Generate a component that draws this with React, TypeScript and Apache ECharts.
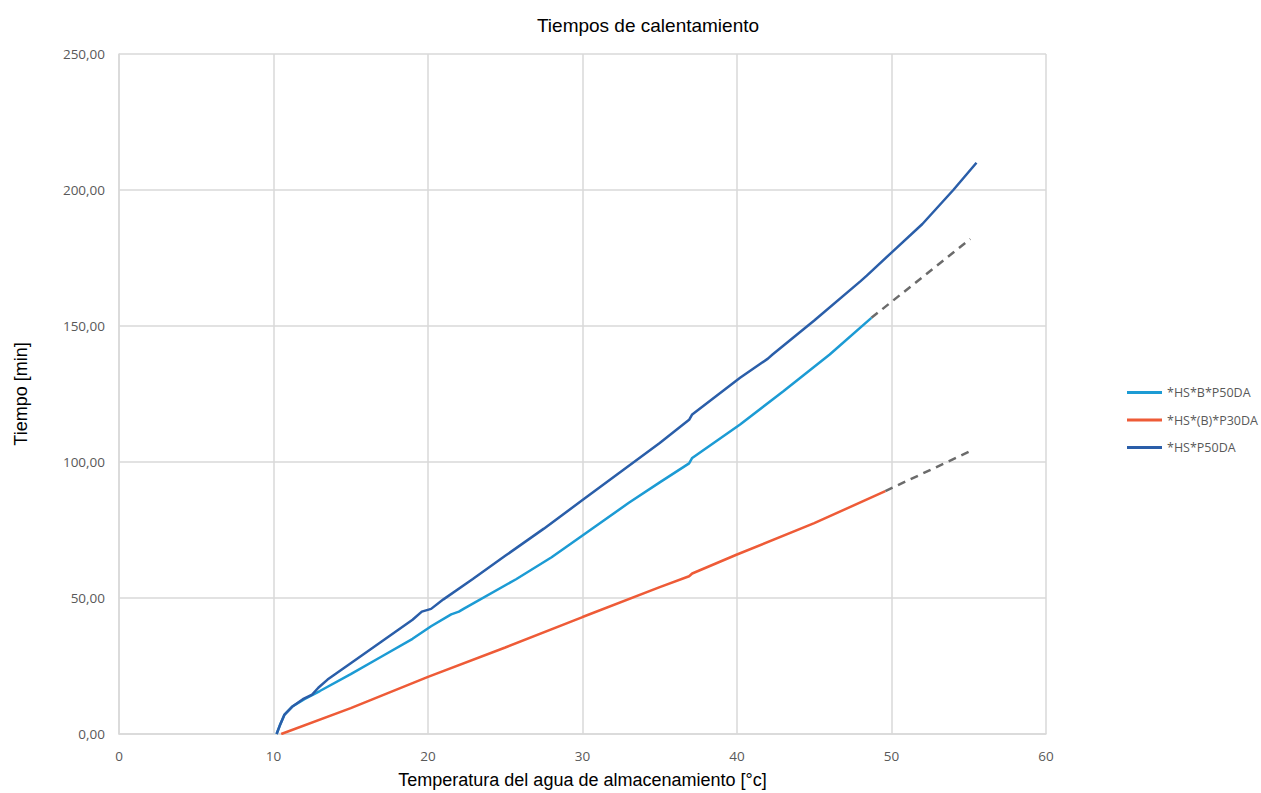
import React, { useEffect, useRef } from "react";
import * as echarts from "echarts";

const title = "Tiempos de calentamiento";
const xName = "Temperatura del agua de almacenamiento [°c]";
const yName = "Tiempo [min]";
const seriesNames = ["*HS*B*P50DA", "*HS*(B)*P30DA", "*HS*P50DA"];

// *HS*B*P50DA (light blue)
const lbX = [10.2, 10.4, 10.7, 11.2, 12, 13, 15, 17, 19, 20.2, 21.5, 22, 22.3, 25.7, 28, 30, 33, 35, 36.9, 37.1, 40.2, 43, 46, 48.7];
const lbY = [0, 3, 7, 10, 12.8, 15.8, 22, 28.5, 35, 39.6, 44, 45, 46, 56.9, 65, 73, 85, 92.5, 99.5, 101.5, 113.8, 126, 139.5, 153];

// *HS*(B)*P30DA (orange)
const orX = [10.5, 15, 20, 25, 30, 35, 36.9, 37.1, 40, 45, 49.6];
const orY = [0, 9.5, 21, 31.8, 43, 54, 58, 59, 66, 77.5, 89.3];

// *HS*P50DA (dark blue)
const dbX = [10.2, 10.4, 10.7, 11.2, 11.9, 12.5, 12.9, 13.5, 15, 17, 19, 19.6, 20.2, 21, 22.9, 25, 27.5, 30, 32.5, 35, 36.9, 37.1, 40.2, 42, 42.3, 45, 48, 48.4, 50, 52, 54, 55.5];
const dbY = [0, 3, 7, 10, 12.8, 14.5, 17, 20, 26, 34, 42, 45, 46, 49.5, 57, 65.5, 75.5, 86, 96.5, 107, 115.5, 117.5, 131, 138, 139.5, 152, 166.5, 168.5, 177, 187.5, 200, 210];

// dashed trend extensions
const trend1X = [48.7, 55.1];
const trend1Y = [153, 182];
const trend2X = [49.6, 55.1];
const trend2Y = [89.3, 104];

const xTicks = { min: 0, max: 60, interval: 10 };
const yTicks = { min: 0, max: 250, interval: 50 };

const zip = (xs: number[], ys: number[]) => xs.map((x, i) => [x, ys[i]]);

export default function App() {
  const ref = useRef<HTMLDivElement>(null);
  useEffect(() => {
    if (!ref.current) return;
    const chart = echarts.init(ref.current, null, { renderer: "svg" });
    const gridColor = "#d9d9d9";
    const labelColor = "#595959";
    chart.setOption({
      animation: false,
      backgroundColor: "#ffffff",
      title: {
        text: title,
        left: 643,
        top: 11,
        textAlign: "center",
        textStyle: {
          fontFamily: "Liberation Sans, Arial",
          fontSize: 19,
          fontWeight: "normal",
          color: "#000",
        },
      },
      grid: { left: 119, right: 215, top: 54, bottom: 59, containLabel: false, outerBoundsMode: "none" },
      legend: {
        data: seriesNames.map((n) => ({ name: n, icon: "rect" })),
        orient: "vertical",
        left: 1122,
        top: 381,
        itemWidth: 35,
        itemHeight: 3,
        itemGap: 14.5,
        textStyle: { fontFamily: "Open Sans", fontSize: 12.5, color: labelColor },
      },
      xAxis: {
        type: "value",
        ...xTicks,
        name: xName,
        nameLocation: "middle",
        nameGap: 37,
        nameTextStyle: { fontFamily: "Liberation Sans", fontSize: 18, color: "#000" },
        axisLine: { show: true, lineStyle: { color: gridColor, width: 1.5 } },
        axisTick: { show: false },
        axisLabel: { fontFamily: "Open Sans", fontSize: 13.5, color: labelColor, margin: 15 },
        splitLine: { show: true, lineStyle: { color: gridColor, width: 1.5 } },
      },
      yAxis: {
        type: "value",
        ...yTicks,
        name: yName,
        nameLocation: "middle",
        nameGap: 89,
        nameRotate: 90,
        nameTextStyle: { fontFamily: "Liberation Sans", fontSize: 18, color: "#000" },
        axisLine: { show: true, lineStyle: { color: gridColor, width: 1.5 } },
        axisTick: { show: false },
        axisLabel: {
          fontFamily: "Open Sans",
          fontSize: 13.5,
          color: labelColor,
          margin: 14,
          formatter: (v: number) => v.toFixed(2).replace(".", ","),
        },
        splitLine: { show: true, lineStyle: { color: gridColor, width: 1.5 } },
      },
      series: [
        {
          name: seriesNames[0],
          type: "line",
          symbol: "none",
          data: zip(lbX, lbY),
          lineStyle: { color: "#1c9bd4", width: 2.5 },
          itemStyle: { color: "#1c9bd4" },
          z: 3,
        },
        {
          name: seriesNames[1],
          type: "line",
          symbol: "none",
          data: zip(orX, orY),
          lineStyle: { color: "#ee5b37", width: 2.5 },
          itemStyle: { color: "#ee5b37" },
          z: 3,
        },
        {
          name: seriesNames[2],
          type: "line",
          symbol: "none",
          data: zip(dbX, dbY),
          lineStyle: { color: "#2a5ea9", width: 2.5 },
          itemStyle: { color: "#2a5ea9" },
          z: 4,
        },
        {
          name: "trend1",
          type: "line",
          symbol: "none",
          data: zip(trend1X, trend1Y),
          lineStyle: { color: "#6b6b6b", width: 2.5, type: [8, 6] },
          z: 2,
        },
        {
          name: "trend2",
          type: "line",
          symbol: "none",
          data: zip(trend2X, trend2Y),
          lineStyle: { color: "#6b6b6b", width: 2.5, type: [8, 6] },
          z: 2,
        },
      ],
    });
    return () => chart.dispose();
  }, []);
  return (
    <div
      ref={ref}
      style={{ position: "fixed", left: 0, top: 0, width: 1261, height: 793 }}
    />
  );
}
